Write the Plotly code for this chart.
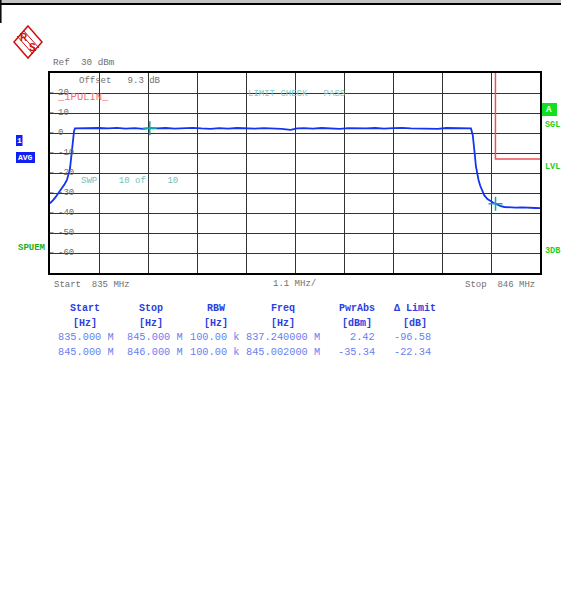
import plotly.graph_objects as go

W, H = 561, 607
L, R, T, B = 50, 540, 73, 273

# ---------------- data ----------------
trace_freq_mhz = [835.00, 835.04, 835.08, 835.12, 835.16, 835.20, 835.24, 835.29, 835.33, 835.38,
                  835.41, 835.43, 835.45, 835.47, 835.49, 835.505, 835.52, 835.54, 835.56,
                  835.70, 835.90, 836.10, 836.30, 836.50, 836.70, 836.90, 837.10, 837.24, 837.40,
                  837.60, 837.80, 838.00, 838.20, 838.40, 838.60, 838.80, 839.00, 839.20, 839.40,
                  839.60, 839.80, 840.00, 840.20, 840.40, 840.55, 840.70, 840.90, 841.10, 841.30,
                  841.50, 841.70, 841.90, 842.10, 842.30, 842.50, 842.70, 842.90, 843.10, 843.30,
                  843.50, 843.70, 843.90, 844.10, 844.30, 844.45,
                  844.49, 844.52, 844.54, 844.56, 844.585, 844.62, 844.66, 844.70, 844.75, 844.82,
                  844.90, 844.96, 845.002, 845.06, 845.12, 845.20, 845.30, 845.45, 845.60, 845.75,
                  845.90, 846.00]
trace_level_dbm = [-35.2, -34.4, -33.3, -32.2, -31.0, -29.8, -28.6, -27.0, -25.5, -23.5,
                   -21.5, -19.5, -17.5, -13.0, -9.5, -5.5, -2.0, 1.0, 2.3,
                   2.4, 2.2, 2.5, 2.3, 2.6, 2.2, 2.4, 2.1, 2.42, 2.3,
                   2.5, 2.2, 2.4, 2.6, 2.3, 2.1, 2.4, 2.2, 2.5, 2.3,
                   2.2, 2.4, 2.3, 2.1, 1.6, 2.3, 2.4, 2.2, 2.5, 2.3,
                   2.1, 2.4, 2.2, 2.3, 2.5, 2.2, 2.4, 2.6, 2.3, 2.2,
                   2.4, 2.1, 2.5, 2.3, 2.2, 2.3,
                   -1.0, -6.0, -11.5, -16.5, -20.0, -23.5, -26.5, -29.0, -31.2, -33.0,
                   -34.3, -35.0, -35.34, -36.0, -36.6, -37.0, -37.2, -37.3, -37.2, -37.5,
                   -37.5, -37.6]

limit_freq_mhz = [845.0, 845.0, 846.0]
limit_level_dbm = [99.0, -13.0, -13.0]

marker_freq_mhz = [837.24, 845.002]
marker_level_dbm = [2.42, -35.34]

y_tick_values = [20, 10, 0, -10, -20, -30, -40, -50, -60]
y_tick_labels = ["20", "10", "0", "-10", "-20", "-30", "-40", "-50", "-60"]

x_start_mhz, x_stop_mhz, x_div_mhz = 835.0, 846.0, 1.1
y_min_dbm, y_max_dbm = -70, 30

tbl_headers = ["Start", "Stop", "RBW", "Freq", "PwrAbs", "\u0394 Limit"]
tbl_units = ["[Hz]", "[Hz]", "[Hz]", "[Hz]", "[dBm]", "[dB]"]
tbl_start = ["835.000 M", "845.000 M"]
tbl_stop = ["845.000 M", "846.000 M"]
tbl_rbw = ["100.00 k", "100.00 k"]
tbl_freq = ["837.240000 M", "845.002000 M"]
tbl_pwr = ["2.42", "-35.34"]
tbl_dlim = ["-96.58", "-22.34"]

# ---------------- helpers ----------------
def X(p):
    return (p - L) / (R - L)

def Y(p):
    return (B - p) / (B - T)

MONO = "Liberation Mono, DejaVu Sans Mono, monospace"

fig = go.Figure()

fig.add_trace(go.Scatter(x=limit_freq_mhz, y=limit_level_dbm, mode="lines",
                         line=dict(color="#f05050", width=1.5), hoverinfo="skip"))
fig.add_trace(go.Scatter(x=trace_freq_mhz, y=trace_level_dbm, mode="lines",
                         line=dict(color="#1434f0", width=1.8)))
fig.add_trace(go.Scatter(x=marker_freq_mhz, y=marker_level_dbm, mode="markers",
                         marker=dict(symbol="cross-thin", size=10,
                                     line=dict(color="#10a8a8", width=1.5))))

annotations = []
shapes = []

def txt(x, y, s, color="#707070", size=9, xanchor="left", bold=False, font=MONO):
    annotations.append(dict(x=X(x), y=Y(y), xref="paper", yref="paper",
                            text=("<b>%s</b>" % s) if bold else s,
                            showarrow=False, xanchor=xanchor, yanchor="middle",
                            font=dict(family=font, size=size, color=color)))

# y tick labels inside plot; white masks between gridlines and traces
TICK_FS = 9
for v, lab in zip(y_tick_values, y_tick_labels):
    annotations.append(dict(x=X(55.5), y=v, xref="paper", yref="y", text=lab, showarrow=False,
                            xanchor="left", yanchor="middle",
                            font=dict(family=MONO, size=TICK_FS, color="#6e6e6e")))
    shapes.append(dict(type="rect", xref="paper", yref="y", x0=X(54),
                       x1=X(56 + len(lab) * 0.6 * TICK_FS + 1.5), y0=v - 2.0, y1=v + 2.0,
                       fillcolor="white", line=dict(width=0), layer="between"))
    shapes.append(dict(type="line", xref="paper", yref="y", x0=X(50), x1=X(53.5), y0=v, y1=v,
                       line=dict(color="#3a3a3a", width=1), layer="between"))

txt(51, 63, "Ref  30 dBm", size=9.3)
txt(77, 81, "Offset   9.3 dB", size=9)
txt(55, 97, "_1PULIN_", color="#f07070", size=10.5)
txt(246, 94, "LIMIT CHECK   PASS", color="#80c8c8", size=9)
txt(79, 181, "SWP    10 of    10", color="#70c0c0", size=9)
txt(52, 285, "Start  835 MHz", size=9)
txt(294, 284, "1.1 MHz/", xanchor="center", size=9)
txt(537, 285, "Stop  846 MHz", xanchor="right", size=9)

# side labels
txt(549, 109.5, "A", color="white", size=9, xanchor="center", bold=True)
txt(543, 125, "SGL", color="#20d020", size=8.5, bold=True)
txt(543, 167, "LVL", color="#20d020", size=8.5, bold=True)
txt(543, 251, "3DB", color="#20d020", size=8.5, bold=True)
txt(16, 248, "SPUEM", color="#20b020", size=9, bold=True)
txt(19.2, 140.5, "1", color="white", size=8, xanchor="center", bold=True)
txt(25.5, 157.5, "AVG", color="white", size=8, xanchor="center", bold=True)

# logo letters
txt(24, 37, "R", color="#d01010", size=10, xanchor="center", bold=True, font="Liberation Sans, Arial")
txt(32, 47, "S", color="#d01010", size=10, xanchor="center", bold=True, font="Liberation Sans, Arial")

# table
HEAD_C = "#2a40e0"
DATA_C = "#6a80f0"
head_x = [85, 151, 216, 283, 357, 415]
for hx, h, u in zip(head_x, tbl_headers, tbl_units):
    txt(hx, 308, h, color=HEAD_C, size=10, xanchor="center", bold=True)
    txt(hx, 323, u, color=HEAD_C, size=10, xanchor="center", bold=True)
rows_y = [337, 352]
for i, ry in enumerate(rows_y):
    txt(56, ry, tbl_start[i], color=DATA_C, size=10.3)
    txt(125, ry, tbl_stop[i], color=DATA_C, size=10.3)
    txt(188, ry, tbl_rbw[i], color=DATA_C, size=10.3)
    txt(244, ry, tbl_freq[i], color=DATA_C, size=10.3)
    txt(377, ry, tbl_pwr[i], color=DATA_C, size=10.3, xanchor="right")
    txt(433, ry, tbl_dlim[i], color=DATA_C, size=10.3, xanchor="right")

# top bar
shapes.append(dict(type="rect", xref="paper", yref="paper", x0=X(0), x1=X(W), y0=Y(0), y1=Y(3),
                   fillcolor="#c4c4c4", line=dict(width=0), layer="above"))
shapes.append(dict(type="line", xref="paper", yref="paper", x0=X(0), x1=X(W), y0=Y(4), y1=Y(4),
                   line=dict(color="black", width=2), layer="above"))
shapes.append(dict(type="line", xref="paper", yref="paper", x0=X(0.8), x1=X(0.8), y0=Y(0), y1=Y(23),
                   line=dict(color="black", width=1.5), layer="above"))
# boxes
shapes.append(dict(type="rect", xref="paper", yref="paper", x0=X(542), x1=X(557), y0=Y(103), y1=Y(116),
                   fillcolor="#10e020", line=dict(width=0), layer="below"))
shapes.append(dict(type="rect", xref="paper", yref="paper", x0=X(16), x1=X(22.5), y0=Y(135), y1=Y(146),
                   fillcolor="#1020f0", line=dict(width=0), layer="below"))
shapes.append(dict(type="rect", xref="paper", yref="paper", x0=X(16), x1=X(35), y0=Y(152), y1=Y(163),
                   fillcolor="#1020f0", line=dict(width=0), layer="below"))
# logo diamond
def diamond(cx, cy, hw, hh):
    return "M %f %f L %f %f L %f %f L %f %f Z" % (X(cx), Y(cy - hh), X(cx + hw), Y(cy),
                                                  X(cx), Y(cy + hh), X(cx - hw), Y(cy))
shapes.append(dict(type="path", xref="paper", yref="paper", path=diamond(28, 42, 14, 16),
                   line=dict(color="#d01010", width=1.5), layer="above"))
for k in (-3, 0, 3):
    shapes.append(dict(type="line", xref="paper", yref="paper",
                       x0=X(20 + k), y0=Y(33 - k), x1=X(36 + k), y1=Y(51 - k),
                       line=dict(color="#d01010", width=1), layer="above"))

fig.update_layout(
    width=W, height=H,
    margin=dict(l=L, r=W - R, t=T, b=H - B),
    paper_bgcolor="white", plot_bgcolor="white",
    showlegend=False,
    annotations=annotations,
    shapes=shapes,
    xaxis=dict(range=[x_start_mhz, x_stop_mhz], tick0=x_start_mhz, dtick=x_div_mhz,
               showticklabels=False, ticks="", showgrid=True, gridcolor="#333333", gridwidth=1,
               zeroline=False, showline=True, mirror=True, linecolor="black", linewidth=2),
    yaxis=dict(range=[y_min_dbm, y_max_dbm], tick0=0, dtick=10,
               showticklabels=False, ticks="", showgrid=True, gridcolor="#333333", gridwidth=1,
               zeroline=False, showline=True, mirror=True, linecolor="black", linewidth=2),
)

fig.write_html("out.html", config={"displayModeBar": False},
               post_script="document.body.style.margin='0';document.body.style.overflow='hidden';")
